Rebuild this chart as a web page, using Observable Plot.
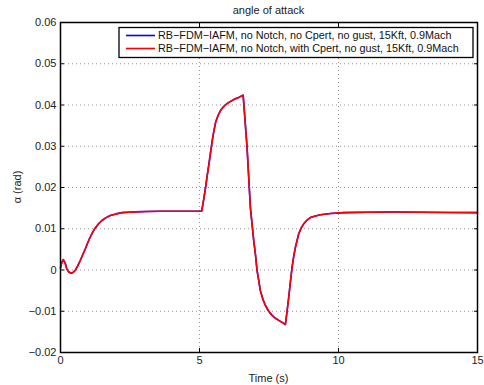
<!DOCTYPE html>
<html>
<head>
<meta charset="utf-8">
<script src="https://cdn.jsdelivr.net/npm/d3@7"></script>
<script src="https://cdn.jsdelivr.net/npm/@observablehq/plot@0.6"></script>
<style>
  html, body { margin: 0; padding: 0; background: #fff; }
  #chart { width: 484px; height: 385px; }
  svg { font-family: "Liberation Sans", Arial, Helvetica, sans-serif; }
</style>
</head>
<body>
<div id="chart"></div>
<script>
const title = "angle of attack";
const xLabel = "Time (s)";
const yLabel = "α (rad)";
const seriesNames = [
  "RB\u2212FDM\u2212IAFM, no Notch, no Cpert, no gust, 15Kft, 0.9Mach",
  "RB\u2212FDM\u2212IAFM, no Notch, with Cpert, no gust, 15Kft, 0.9Mach"
];
const seriesColors = ["#0000ff", "#ff0000"];
const xTicks = [0, 5, 10, 15];
const yTicks = [-0.02, -0.01, 0, 0.01, 0.02, 0.03, 0.04, 0.05, 0.06];
const yTickLabels = ["\u22120.02", "\u22120.01", "0", "0.01", "0.02", "0.03", "0.04", "0.05", "0.06"];

const time = [
  0, 0.04, 0.1, 0.16, 0.23, 0.3, 0.38, 0.45, 0.53, 0.62, 0.71, 0.8, 0.89, 0.98, 1.07, 1.16, 1.25, 1.37, 1.49, 1.64, 1.79, 2.0, 2.2, 2.45, 2.69, 3.1, 3.6, 4.2, 5.08,
  5.16, 5.22, 5.28, 5.34, 5.40, 5.46, 5.52, 5.58, 5.67, 5.76, 5.88, 6.0, 6.15, 6.29, 6.43, 6.57,
  6.71, 6.83, 6.95, 7.01, 7.07, 7.19, 7.28, 7.37, 7.49, 7.61, 7.73, 7.85, 7.97, 8.09,
  8.15, 8.21, 8.27, 8.33, 8.39, 8.45, 8.57, 8.66, 8.75, 8.87, 8.99, 9.17, 9.35, 9.71, 10.2, 11, 12, 13, 14, 15
];
const alphaNoCpert = [
  0.0005, 0.0017, 0.0025, 0.0018, 0.0002, -0.0005, -0.0008, -0.0006, -0.0001, 0.0010, 0.0023, 0.0037, 0.0051, 0.0066, 0.0080, 0.0092, 0.0102, 0.0112, 0.0120, 0.0127, 0.0132, 0.0136, 0.0139, 0.0140, 0.0141, 0.0142, 0.01423, 0.01425, 0.01425,
  0.0175, 0.0201, 0.0230, 0.0257, 0.0286, 0.0314, 0.0338, 0.0358, 0.0375, 0.0387, 0.0397, 0.0404, 0.0410, 0.0415, 0.0419, 0.0424,
  0.0298, 0.0152, 0.0072, 0.0039, -0.0001, -0.0050, -0.0071, -0.0086, -0.0100, -0.0110, -0.0117, -0.0122, -0.0127, -0.0132,
  -0.0100, -0.0066, -0.0029, 0.0007, 0.0033, 0.0055, 0.0088, 0.0102, 0.0112, 0.0121, 0.0127, 0.0131, 0.0134, 0.0137, 0.0139, 0.0140, 0.01405, 0.0140, 0.01395, 0.0139
];
const alphaWithCpert = [
  0.0005, 0.0017, 0.0025, 0.0018, 0.0002, -0.0005, -0.0008, -0.0006, -0.0001, 0.0010, 0.0023, 0.0037, 0.0051, 0.0066, 0.0080, 0.0092, 0.0102, 0.0112, 0.0120, 0.0127, 0.0132, 0.0136, 0.0139, 0.0140, 0.0141, 0.0142, 0.01423, 0.01425, 0.01425,
  0.0175, 0.0201, 0.0230, 0.0257, 0.0286, 0.0314, 0.0338, 0.0358, 0.0375, 0.0387, 0.0397, 0.0404, 0.0410, 0.0415, 0.0419, 0.0424,
  0.0298, 0.0152, 0.0072, 0.0039, -0.0001, -0.0050, -0.0071, -0.0086, -0.0100, -0.0110, -0.0117, -0.0122, -0.0127, -0.0132,
  -0.0100, -0.0066, -0.0029, 0.0007, 0.0033, 0.0055, 0.0088, 0.0102, 0.0112, 0.0121, 0.0127, 0.0131, 0.0134, 0.0137, 0.0139, 0.0140, 0.01405, 0.0140, 0.01395, 0.0139
];

const dataBlue = time.map((t, i) => ({t, v: alphaNoCpert[i]}));
const dataRed = time.map((t, i) => ({t, v: alphaWithCpert[i]}));

const W = 484, H = 385;
const mL = 60, mR = 7, mT = 22, mB = 33;
const fmtY = d => yTickLabels[yTicks.findIndex(v => Math.abs(v - d) < 1e-9)];
const blank = () => "";

const plot = Plot.plot({
  width: W,
  height: H,
  marginLeft: mL,
  marginRight: mR,
  marginTop: mT,
  marginBottom: mB,
  style: {fontFamily: '"Liberation Sans", Arial, Helvetica, sans-serif', fontSize: "11px", color: "#000", background: "#fff"},
  x: {domain: [0, 15], label: null},
  y: {domain: [-0.02, 0.06], label: null},
  marks: [
    Plot.gridX(xTicks.slice(1, -1), {stroke: "#777", strokeOpacity: 1, strokeWidth: 0.8, strokeDasharray: "1,3"}),
    Plot.gridY(yTicks.slice(1, -1), {stroke: "#777", strokeOpacity: 1, strokeWidth: 0.8, strokeDasharray: "1,3"}),
    Plot.line(dataBlue, {x: "t", y: "v", stroke: seriesColors[0], strokeWidth: 1.6}),
    Plot.line(dataRed, {x: "t", y: "v", stroke: seriesColors[1], strokeWidth: 1.6}),
    Plot.axisX(xTicks, {anchor: "bottom", tickSize: -4, tickPadding: 8, tickFormat: d => String(d), label: null, stroke: "#000", fill: "#222"}),
    Plot.axisX(xTicks, {anchor: "top", tickSize: -4, tickFormat: blank, label: null, stroke: "#000"}),
    Plot.axisY(yTicks, {anchor: "left", tickSize: -4, tickPadding: 8, tickFormat: fmtY, label: null, stroke: "#000", fill: "#222"}),
    Plot.axisY(yTicks, {anchor: "right", tickSize: -4, tickFormat: blank, label: null, stroke: "#000"}),
    Plot.frame({stroke: "#000", strokeWidth: 1.5})
  ]
});

document.getElementById("chart").appendChild(plot);

const svg = d3.select(plot);
const sx = plot.scale("x"), sy = plot.scale("y");
const pLeft = sx.apply(0), pRight = sx.apply(15), pTop = sy.apply(0.06), pBottom = sy.apply(-0.02);

// title and axis labels
svg.append("text").attr("x", (pLeft + pRight) / 2).attr("y", 14).attr("text-anchor", "middle")
  .attr("font-size", "11px").attr("fill", "#222").text(title);
svg.append("text").attr("x", (pLeft + pRight) / 2).attr("y", H - 3).attr("text-anchor", "middle")
  .attr("font-size", "11px").attr("fill", "#222").text(xLabel);
svg.append("text").attr("transform", `translate(21,${(pTop + pBottom) / 2}) rotate(-90)`).attr("text-anchor", "middle")
  .attr("font-size", "11px").attr("fill", "#222").text(yLabel);

// legend
const lg = svg.append("g");
const lgX = 119, lgY = 27.5, lgW = pRight - 4 - lgX, lgH = 30;
lg.append("rect").attr("x", lgX).attr("y", lgY).attr("width", lgW).attr("height", lgH)
  .attr("fill", "#fff").attr("stroke", "#000").attr("stroke-width", 1.3);
seriesNames.forEach((name, i) => {
  const yy = lgY + 8 + i * 13;
  lg.append("line").attr("x1", lgX + 7).attr("x2", lgX + 36).attr("y1", yy).attr("y2", yy)
    .attr("stroke", seriesColors[i]).attr("stroke-width", 1.6);
  lg.append("text").attr("x", lgX + 39).attr("y", yy).attr("dy", "0.35em").attr("text-anchor", "start")
    .attr("font-size", "10.8px").attr("fill", "#111").text(name);
});
</script>
</body>
</html>
